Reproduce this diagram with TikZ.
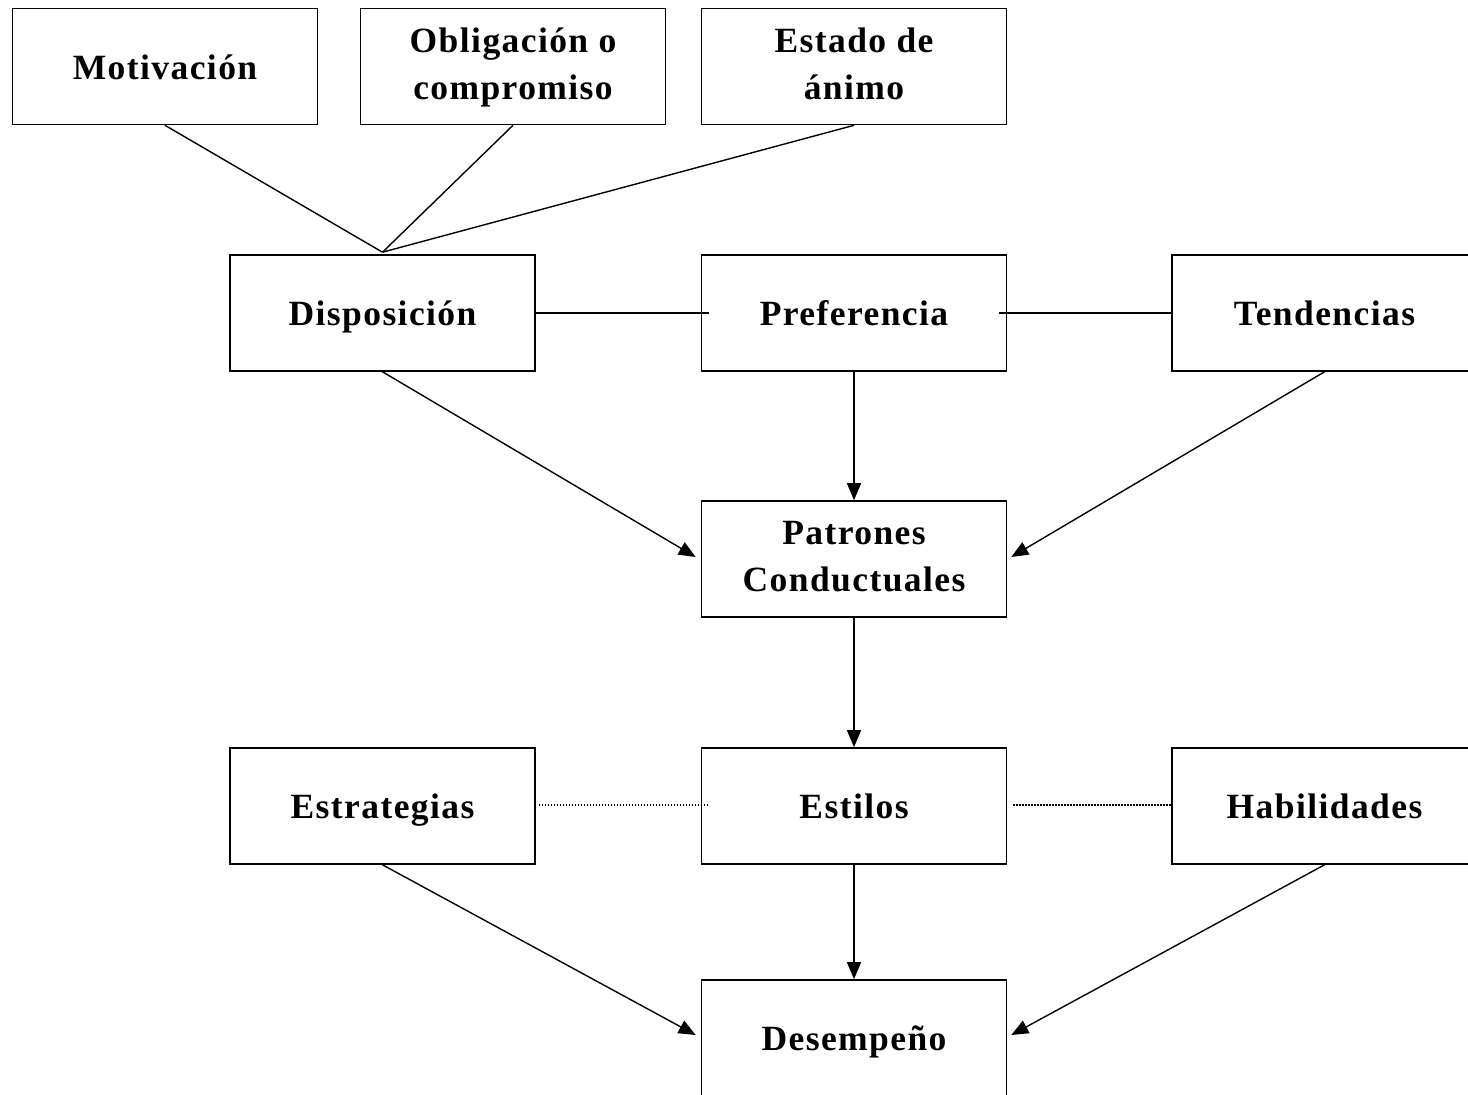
\documentclass[tikz,border=0pt]{standalone}
\usepackage{fontspec}
\setmainfont{Liberation Serif}[LetterSpace=4]
\usetikzlibrary{arrows.meta,calc}
\begin{document}
\begin{tikzpicture}[x=1pt,y=-1pt,
  box/.style={draw, line width=1.6pt, minimum width=305pt, minimum height=116pt,
    inner sep=0pt, align=center, text depth=6pt, font=\fontsize{35.5}{47}\selectfont\bfseries},
  one/.style={box, text depth=0pt, text height=25pt},
  conn/.style={line width=1.4pt},
  arr/.style={line width=1.4pt, -{Triangle[length=17pt,width=14pt]}},
  dot/.style={line width=1.5pt, dash pattern=on 1.5pt off 1.5pt}]
\useasboundingbox (0,0) rectangle (1468,1095);
\fill[white] (0,0) rectangle (1468,1095);
\node[one] (mot) at (165,66.5) {Motivación};
\node[box] (obl) at (513,66.5) {Obligación o\\compromiso};
\node[box] (est) at (854,66.5) {Estado de\\ánimo};
\node[one] (disp) at (382.5,313) {Disposición};
\node[one] (pref) at (854,313) {Preferencia};
\node[one] (tend) at (1324.5,313) {Tendencias};
\node[box] (pat) at (854,559) {Patrones\\Conductuales};
\node[one] (estr) at (382.5,806) {Estrategias};
\node[one] (estil) at (854,806) {Estilos};
\node[one] (hab) at (1324.5,806) {Habilidades};
\node[one] (des) at (854,1038) {Desempeño};
% top connectors
\draw[conn] (mot.south) -- ($(disp.north)+(0,-2)$);
\draw[conn] (obl.south) -- ($(disp.north)+(0,-2)$);
\draw[conn] (est.south) -- ($(disp.north)+(0,-2)$);
% horizontal
\draw[conn] (disp.east) -- ($(pref.west)+(8,0)$);
\draw[conn] ($(pref.east)+(-8,0)$) -- (tend.west);
\draw[dot] ($(estr.east)+(3,-1)$) -- ($(estil.west)+(8,-1)$);
\draw[dot] ($(estil.east)+(6,-1)$) -- ($(hab.west)+(0,-1)$);
% arrows to Patrones
\draw[arr] (disp.south) -- ($(pat.west)+(-5,-2)$);
\draw[arr] (pref.south) -- (pat.north);
\draw[arr] (tend.south) -- ($(pat.east)+(4,-2)$);
\draw[arr] (pat.south) -- (estil.north);
% arrows to Desempeño
\draw[arr] (estr.south) -- ($(des.west)+(-5,-3)$);
\draw[arr] (estil.south) -- (des.north);
\draw[arr] (hab.south) -- ($(des.east)+(4,-3)$);
\end{tikzpicture}
\end{document}
